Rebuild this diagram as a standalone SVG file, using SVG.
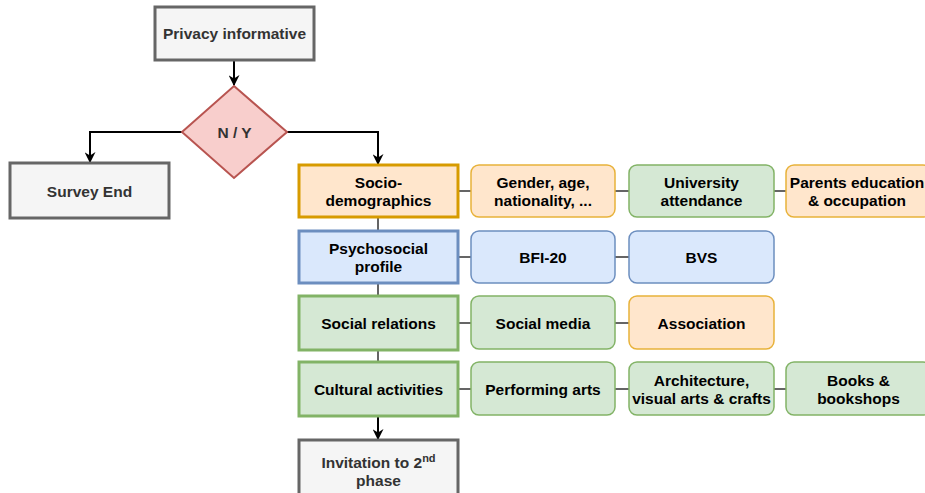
<svg xmlns="http://www.w3.org/2000/svg" width="925" height="493" viewBox="0 0 925 493">
<defs>
<marker id="arr" viewBox="0 0 10 10" refX="9" refY="5" markerWidth="11" markerHeight="11" markerUnits="userSpaceOnUse" orient="auto">
<path d="M0,0 L10,5 L0,10 L3,5 Z" fill="#000"/>
</marker>
<style>
text{font-family:"Liberation Sans",Arial,sans-serif;font-weight:bold;font-size:15.5px;text-anchor:middle;fill:#000}
.g text{fill:#333}
.grey{fill:#f5f5f5;stroke:#666;stroke-width:3}
.main{stroke-width:3}
.sub{stroke-width:1.5}
.or{fill:#ffe6cc;stroke:#d79b00}
.suborg{fill:#ffe6cc;stroke:#e8b23a}
.bl{fill:#dae8fc;stroke:#6c8ebf}
.gr{fill:#d5e8d4;stroke:#82b366}
.line{stroke:#000;stroke-width:2;fill:none}
.link{stroke:#333;stroke-width:1.5;fill:none}
</style>
</defs>
<rect width="925" height="493" fill="#fff"/>
<g id="connectors">
<path class="line" d="M234,60 V85" marker-end="url(#arr)"/>
<path class="line" d="M182,132 H90 V162" marker-end="url(#arr)"/>
<path class="line" d="M287,132 H378 V164" marker-end="url(#arr)"/>
<path class="link" d="M378,217 V231 M378,283 V296 M378,350 V362"/>
<path class="line" d="M378,416 V439" marker-end="url(#arr)"/>
<path class="link" d="M458,191 H471 M615,191 H629 M774,191 H786"/>
<path class="link" d="M458,257 H471 M615,257 H629"/>
<path class="link" d="M458,323 H471 M615,323 H629"/>
<path class="link" d="M458,389 H471 M615,389 H629 M774,389 H786"/>
</g>
<g id="privacy" class="g"><rect class="grey" x="155" y="7" width="159" height="53"/><text x="234.5" y="39">Privacy informative</text></g>
<g id="decision"><path d="M234,86 L287,132 L234,178 L182,132 Z" fill="#f8cecc" stroke="#b85450" stroke-width="2"/><text x="234.5" y="137.5" style="fill:#333">N / Y</text></g>
<g id="survey-end" class="g"><rect class="grey" x="10" y="163" width="159" height="55"/><text x="89.5" y="196.5">Survey End</text></g>
<g id="socio"><rect class="main or" x="299" y="165" width="159" height="52"/><text x="378.5" y="187.5">Socio-</text><text x="378.5" y="205.5">demographics</text></g>
<g id="psycho"><rect class="main bl" x="299" y="231" width="159" height="52"/><text x="378.5" y="253.5">Psychosocial</text><text x="378.5" y="271.5">profile</text></g>
<g id="social"><rect class="main gr" x="299" y="296" width="159" height="54"/><text x="378.5" y="328.5">Social relations</text></g>
<g id="cultural"><rect class="main gr" x="299" y="362" width="159" height="54"/><text x="378.5" y="394.5">Cultural activities</text></g>
<g id="invitation" class="g"><rect class="grey" x="299" y="440" width="159" height="60"/><text x="378.5" y="467.5">Invitation to 2<tspan font-size="11" dy="-6">nd</tspan></text><text x="378.5" y="485.5">phase</text></g>
<g id="gender"><rect class="sub suborg" x="471" y="165" width="144" height="52" rx="8"/><text x="543" y="187.5">Gender, age,</text><text x="543" y="205.5">nationality, ...</text></g>
<g id="university"><rect class="sub gr" x="629" y="165" width="145" height="52" rx="8"/><text x="701.5" y="187.5">University</text><text x="701.5" y="205.5">attendance</text></g>
<g id="parents"><rect class="sub suborg" x="786" y="165" width="145" height="52" rx="8"/><text x="857" y="187.5">Parents education</text><text x="857" y="205.5">&amp; occupation</text></g>
<g id="bfi"><rect class="sub bl" x="471" y="231" width="144" height="52" rx="8"/><text x="543" y="262.5">BFI-20</text></g>
<g id="bvs"><rect class="sub bl" x="629" y="231" width="145" height="52" rx="8"/><text x="701.5" y="262.5">BVS</text></g>
<g id="socialmedia"><rect class="sub gr" x="471" y="296" width="144" height="53" rx="8"/><text x="543" y="328.5">Social media</text></g>
<g id="association"><rect class="sub suborg" x="629" y="296" width="145" height="53" rx="8"/><text x="701.5" y="328.5">Association</text></g>
<g id="performing"><rect class="sub gr" x="471" y="362" width="144" height="53" rx="8"/><text x="543" y="394.5">Performing arts</text></g>
<g id="architecture"><rect class="sub gr" x="629" y="362" width="145" height="53" rx="8"/><text x="701.5" y="385.5">Architecture,</text><text x="701.5" y="403.5">visual arts &amp; crafts</text></g>
<g id="books"><rect class="sub gr" x="786" y="362" width="145" height="53" rx="8"/><text x="858.5" y="385.5">Books &amp;</text><text x="858.5" y="403.5">bookshops</text></g>
</svg>
